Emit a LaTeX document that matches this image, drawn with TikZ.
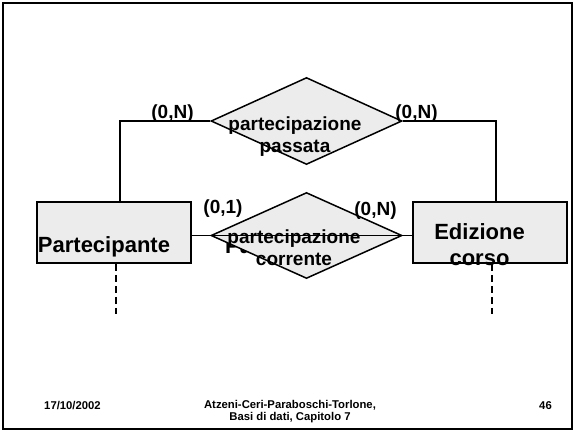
\documentclass[tikz,border=0pt]{standalone}
\usepackage{fontspec}
\setmainfont{Liberation Sans}
\usetikzlibrary{shapes.geometric}
\tikzset{
  ent/.style={draw, line width=1.5pt, fill=gray!15, rectangle, minimum width=154pt, minimum height=61pt, inner sep=0pt},
  rel/.style={draw, line width=1.5pt, fill=gray!15, diamond, minimum width=191pt, minimum height=87pt, inner sep=0pt},
  conn/.style={line width=1.5pt},
  dashconn/.style={line width=1.5pt, dash pattern=on 7pt off 4pt},
  etext/.style={font=\bfseries\fontsize{22}{26}\selectfont, inner sep=0pt, align=center},
  rtext/.style={font=\bfseries\fontsize{19}{22}\selectfont, inner sep=0pt, align=center},
  card/.style={font=\bfseries\fontsize{19}{22}\selectfont, inner sep=0pt, anchor=base},
  foot/.style={font=\bfseries\fontsize{11.3}{12}\selectfont, inner sep=0pt, align=center, anchor=base},
}
\begin{document}
\begin{tikzpicture}[x=1pt,y=-1pt]
\useasboundingbox (0,0) rectangle (574,432);
\draw[line width=1.8pt] (3,3) rectangle (572,429);

% entities
\node[ent] (P) at (114,232.5) {};
\node[ent] (E) at (490,232.5) {};

% connectors to upper relation
\node[rel] (RP) at (306.5,121) {};
\draw[conn] (RP.west) -| ([xshift=6pt]P.north);
\draw[conn] (RP.east) -| ([xshift=6pt]E.north);

% dashed lines
\draw[dashconn] ([xshift=2pt]P.south) -- ++(0,50);
\draw[dashconn] ([xshift=2pt]E.south) -- ++(0,50);

% text partly hidden behind the lower relation
\node[etext, anchor=base west] (hid) at (225,253) {Partecipante};

% lower relation
\node[rel, minimum height=86pt] (RC) at (306.5,235.5) {};
\draw[conn] (P.east |- RC.center) -- (E.west |- RC.center);

% texts (anchor base = baseline of the last line)
\node[etext, anchor=base] (Pt) at (104,252) {Partecipante};
\node[etext, anchor=base] (Et) at (479.5,265) {Edizione\\corso};
\node[rtext, anchor=base] (RPt) at (295,152) {partecipazione\\passata};
\node[rtext, anchor=base] (RCt) at (294,265) {partecipazione\\corrente};

% cardinalities
\node[card] (c1) at (172.5,118) {(0,N)};
\node[card] (c2) at (416.5,118) {(0,N)};
\node[card] (c3) at (223,213) {(0,1)};
\node[card] (c4) at (375.5,215) {(0,N)};

% footer
\node[foot] (f1) at (72.5,409) {17/10/2002};
\node[foot] (f2) at (290,420) {Atzeni-Ceri-Paraboschi-Torlone,\\Basi di dati, Capitolo 7};
\node[foot] (f3) at (545.5,409) {46};
\end{tikzpicture}
\end{document}
